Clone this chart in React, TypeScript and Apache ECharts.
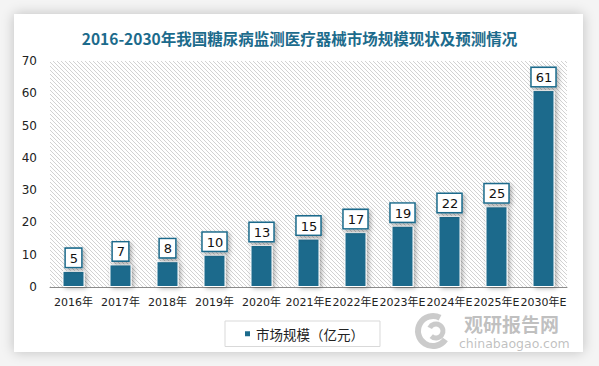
import React, { useEffect, useRef } from "react";
import * as echarts from "echarts";

const categories = ["2016年", "2017年", "2018年", "2019年", "2020年", "2021年E", "2022年E", "2023年E", "2024年E", "2025年E", "2030年E"];
const marketSize = [5, 7, 8, 10, 13, 15, 17, 19, 22, 25, 61];
const seriesName = "市场规模（亿元）";
const titleText = "2016-2030年我国糖尿病监测医疗器械市场规模现状及预测情况";

const MAIN = "#1c6b8c";

function makeHatch() {
  const c = document.createElement("canvas");
  c.width = 4;
  c.height = 4;
  const ctx = c.getContext("2d")!;
  ctx.fillStyle = "#ffffff";
  ctx.fillRect(0, 0, 4, 4);
  ctx.strokeStyle = "#d2d2d2";
  ctx.lineWidth = 1;
  ctx.beginPath();
  ctx.moveTo(-1, -1);
  ctx.lineTo(5, 5);
  ctx.moveTo(-1, 3);
  ctx.lineTo(1, 5);
  ctx.moveTo(3, -1);
  ctx.lineTo(5, 1);
  ctx.stroke();
  return c;
}

export default function App() {
  const ref = useRef<HTMLDivElement>(null);
  useEffect(() => {
    document.body.style.margin = "0";
    const chart = echarts.init(ref.current!, null, { renderer: "svg" });
    const hatch = makeHatch();
    chart.setOption({
      animation: false,
      title: {
        text: titleText,
        left: "center",
        top: 25,
        textStyle: {
          fontFamily: "'Noto Sans CJK SC', sans-serif",
          fontSize: 15.5,
          fontWeight: "bold",
          color: MAIN,
        },
      },
      grid: {
        left: 50,
        right: 32,
        top: 61,
        bottom: 79,
        show: true,
        borderWidth: 0,
        backgroundColor: { image: hatch, repeat: "repeat", imageWidth: 4, imageHeight: 4 } as any,
      },
      legend: {
        data: [seriesName],
        left: 225,
        top: 321,
        itemWidth: 7,
        itemHeight: 7,
        itemGap: 6,
        padding: [6, 16, 6, 18],
        borderColor: "#d9d9d9",
        borderWidth: 1,
        icon: "rect",
        textStyle: {
          fontFamily: "'Noto Sans CJK SC', sans-serif",
          fontSize: 13.5,
          color: "#222",
        },
      },
      xAxis: {
        type: "category",
        data: categories,
        axisLine: { lineStyle: { color: "#8c8c8c", width: 1 } },
        axisTick: { show: false },
        axisLabel: {
          interval: 0,
          hideOverlap: false,
          margin: 10,
          fontFamily: "'DejaVu Sans', 'Noto Sans CJK SC', sans-serif",
          fontSize: 11,
          color: "#222",
        },
      },
      yAxis: {
        type: "value",
        min: 0,
        max: 70,
        interval: 10,
        splitLine: { show: false },
        axisLine: { show: false },
        axisTick: { show: false },
        axisLabel: {
          margin: 13,
          fontFamily: "'DejaVu Sans', sans-serif",
          fontSize: 12,
          color: "#222",
        },
      },
      series: [
        {
          name: seriesName,
          type: "bar",
          data: marketSize,
          barWidth: 22,
          itemStyle: {
            color: MAIN,
            borderColor: "#ffffff",
            borderWidth: 1,
            shadowColor: "rgba(0,0,0,0.35)",
            shadowBlur: 5,
            shadowOffsetX: 2,
            shadowOffsetY: 1,
          },
          label: {
            show: true,
            position: "top",
            distance: 4,
            fontFamily: "'DejaVu Sans', sans-serif",
            fontSize: 13,
            color: "#111",
            backgroundColor: "#ffffff",
            borderColor: MAIN,
            borderWidth: 1.5,
            padding: [3, 3, 2, 4],
            shadowColor: "rgba(0,0,0,0.3)",
            shadowBlur: 4,
            shadowOffsetX: 2,
            shadowOffsetY: 2,
          },
        },
      ],
      graphic: [
        {
          type: "arc",
          shape: { cx: 433, cy: 331, r: 15, startAngle: 0.6, endAngle: 5.2 },
          style: { stroke: "rgba(160,160,160,0.55)", lineWidth: 6, fill: "none" },
          z: 100,
        },
        {
          type: "arc",
          shape: { cx: 436, cy: 331, r: 7, startAngle: 3.6, endAngle: 8.6 },
          style: { stroke: "rgba(160,160,160,0.55)", lineWidth: 5, fill: "none" },
          z: 100,
        },
        {
          type: "text",
          left: 464,
          top: 314,
          style: {
            text: "观研报告网",
            font: "bold 19px 'Noto Sans CJK SC', sans-serif",
            fill: "rgba(150,150,150,0.6)",
          },
          z: 100,
        },
        {
          type: "text",
          left: 459,
          top: 337,
          style: {
            text: "chinabaogao.com",
            font: "12.5px 'DejaVu Sans', sans-serif",
            fill: "rgba(150,150,150,0.6)",
          },
          z: 100,
        },
      ],
    });
    return () => chart.dispose();
  }, []);
  return (
    <div style={{ position: "relative", width: 599, height: 366, background: "#f4f4f4", overflow: "hidden" }}>
      <div
        style={{
          position: "absolute",
          left: 14,
          top: 14,
          width: 569,
          height: 338,
          background: "#ffffff",
          boxShadow: "0 0 12px rgba(0,0,0,0.22)",
        }}
      />
      <div ref={ref} style={{ position: "absolute", left: 0, top: 0, width: 599, height: 366 }} />
    </div>
  );
}
